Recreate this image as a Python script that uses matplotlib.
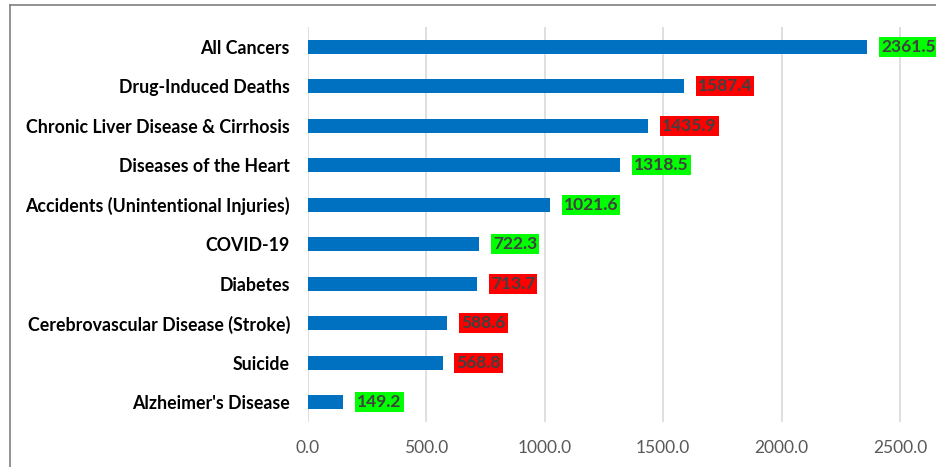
import matplotlib
matplotlib.use("Agg")
import matplotlib.pyplot as plt
from matplotlib.lines import Line2D

causes = ["All Cancers", "Drug-Induced Deaths", "Chronic Liver Disease & Cirrhosis",
          "Diseases of the Heart", "Accidents (Unintentional Injuries)", "COVID-19",
          "Diabetes", "Cerebrovascular Disease (Stroke)", "Suicide", "Alzheimer's Disease"]
values = [2361.5, 1587.4, 1435.9, 1318.5, 1021.6, 722.3, 713.7, 588.6, 568.8, 149.2]
flags = ["green", "red", "red", "green", "green", "green", "red", "red", "red", "green"]
ticks = [0, 500, 1000, 1500, 2000, 2500]

box_colors = {"green": "#00FF00", "red": "#FF0000"}

plt.rcParams["font.family"] = ["Lato", "DejaVu Sans"]

W, H = 936, 467
fig = plt.figure(figsize=(W / 100, H / 100), dpi=100)
ax = fig.add_axes([308 / W, (H - 422) / H, (W - 308) / W, 395 / H])

ypos = list(range(len(causes)))[::-1]
ax.barh(ypos, values, height=0.36, color="#0070C0", zorder=3)

for y, v, f in zip(ypos, values, flags):
    ax.annotate(f"{v:.1f}", xy=(v, y), xytext=(10, 0), textcoords="offset points",
                ha="left", va="center", fontsize=12.5, fontweight="bold", color="#404040",
                bbox=dict(boxstyle="square,pad=0.12", fc=box_colors[f], ec="none"),
                zorder=4, annotation_clip=False)

ax.set_xlim(0, 2652)
ax.set_ylim(-0.5, len(causes) - 0.5)
ax.set_xticks(ticks)
ax.set_xticklabels([f"{t:.1f}" for t in ticks], fontsize=12.5, color="#595959")
ax.set_yticks(ypos)
ax.set_yticklabels(causes, fontsize=12.8, fontweight="bold", color="#000000")
ax.tick_params(axis="both", length=0)
ax.tick_params(axis="x", pad=13)
ax.tick_params(axis="y", pad=13)
ax.grid(axis="x", color="#D9D9D9", linewidth=1.2, zorder=0)
for s in ax.spines.values():
    s.set_visible(False)

# outer chart frame (top and left edges visible)
fig.add_artist(Line2D([10 / W, 1], [1 - 5 / H, 1 - 5 / H], color="#7f7f7f", lw=1.2))
fig.add_artist(Line2D([10 / W, 10 / W], [0, 1 - 5 / H], color="#7f7f7f", lw=1.2))

fig.savefig("out.png", dpi=100)
